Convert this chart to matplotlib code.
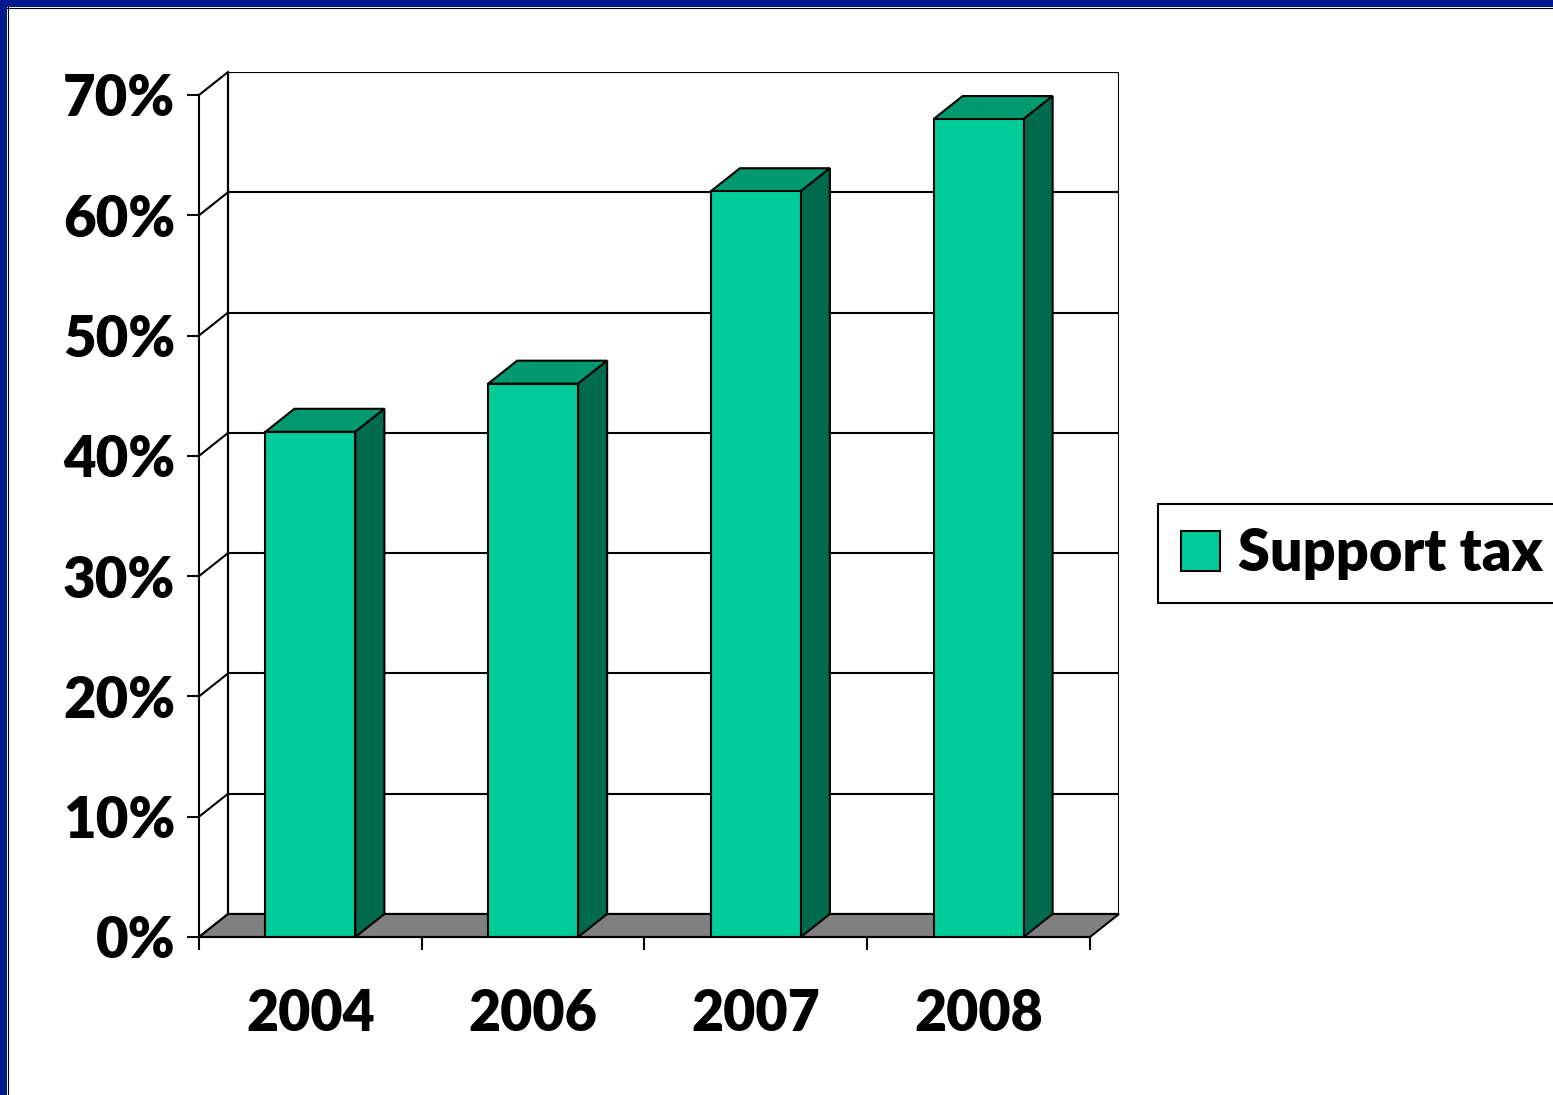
import matplotlib.pyplot as plt
from matplotlib.patches import Polygon, Rectangle, Patch
import numpy as np

years = ["2004", "2006", "2007", "2008"]
support = [42, 46, 62, 68]
yticks = [0, 10, 20, 30, 40, 50, 60, 70]

front_c = "#00CC99"
top_c = "#009970"
side_c = "#006A4E"
floor_c = "#808080"

W, H = 1553, 1095
fig = plt.figure(figsize=(W / 100, H / 100), dpi=100)

# axes covers front-left corner (199,937) to back-right corner (1119,72)
ax = fig.add_axes([199 / W, (H - 937) / H, (1119 - 199) / W, (937 - 72) / H])

# depth of the fake 3d box in data units
dx = 29 / 222.5
dy = 23 / 12.03
bw = 0.404
x = np.arange(len(years))

ax.set_xlim(-0.5, 3.5 + dx)
ax.set_ylim(0, 70 + dy)

# back wall + gridlines
ax.add_patch(Rectangle((-0.5 + dx, dy), 4, 70, facecolor="white",
                       edgecolor="black", lw=1.5, zorder=1))
for t in yticks:
    ax.plot([-0.5 + dx, 3.5 + dx], [t + dy, t + dy], color="black", lw=1.5, zorder=1)
    ax.plot([-0.5, -0.5 + dx], [t, t + dy], color="black", lw=1.5, zorder=1,
            clip_on=False)
ax.plot([-0.5 + dx, -0.5 + dx], [dy, 70 + dy], color="black", lw=1.5, zorder=1)

# floor
ax.add_patch(Polygon([(-0.5, 0), (3.5, 0), (3.5 + dx, dy), (-0.5 + dx, dy)],
                     closed=True, facecolor=floor_c, edgecolor="black", lw=1.5,
                     zorder=2, clip_on=False))

# bars
ax.bar(x, support, width=bw, color=front_c, edgecolor="black", lw=1.5, zorder=4)
for xi, v in zip(x, support):
    l, r = xi - bw / 2, xi + bw / 2
    ax.add_patch(Polygon([(l, v), (r, v), (r + dx, v + dy), (l + dx, v + dy)],
                         closed=True, facecolor=top_c, edgecolor="black", lw=1.5,
                         zorder=3))
    ax.add_patch(Polygon([(r, 0), (r + dx, dy), (r + dx, v + dy), (r, v)],
                         closed=True, facecolor=side_c, edgecolor="black", lw=1.5,
                         zorder=3))

# axes styling
for s in ["top", "right"]:
    ax.spines[s].set_visible(False)
ax.spines["left"].set_bounds(0, 70)
ax.spines["bottom"].set_bounds(-0.5, 3.5)
for s in ["left", "bottom"]:
    ax.spines[s].set_linewidth(1.5)
    ax.spines[s].set_zorder(5)

font = dict(family="Lato", weight="heavy", size=40.5)
ax.set_yticks(yticks)
ax.set_yticklabels([f"{t}%" for t in yticks], fontdict=font)
ax.tick_params(axis="y", length=9, width=1.5, pad=8)
ax.set_xticks(x)
ax.set_xticklabels(years, fontdict=dict(font, size=40))
ax.set_xticks(np.arange(-0.5, 4.0, 1.0), minor=True)
ax.tick_params(axis="x", which="major", length=0, pad=37)
ax.tick_params(axis="x", which="minor", length=9.5, width=1.5)
ax.set_facecolor("none")

# legend (runs off the right edge like the slide crop)
handles = [Patch(facecolor=front_c, edgecolor="black", lw=1.5)]
leg = fig.legend(handles, ["Support tax"], loc="upper left",
                 bbox_to_anchor=(1158 / W, 1 - 504 / H), borderaxespad=0,
                 prop=dict(family="Lato", weight="heavy", size=41.5),
                 fancybox=False, edgecolor="black", framealpha=1,
                 handlelength=0.68, handleheight=0.68, handletextpad=0.3,
                 borderpad=0.4)
leg.get_frame().set_linewidth(1.5)

# slide border
blue = "#001A8C"
fig.patches.append(Rectangle((0, 1 - 7 / H), 1, 7 / H, transform=fig.transFigure,
                             facecolor=blue, edgecolor="none"))
fig.patches.append(Rectangle((0, 0), 7 / W, 1, transform=fig.transFigure,
                             facecolor=blue, edgecolor="none"))
fig.lines.append(plt.Line2D([7 / W, 1], [1 - 7.5 / H, 1 - 7.5 / H],
                            transform=fig.transFigure, color="black", lw=0.8))
fig.lines.append(plt.Line2D([7.5 / W, 7.5 / W], [0, 1 - 7 / H],
                            transform=fig.transFigure, color="black", lw=0.8))

fig.savefig("out.png", dpi=100)
